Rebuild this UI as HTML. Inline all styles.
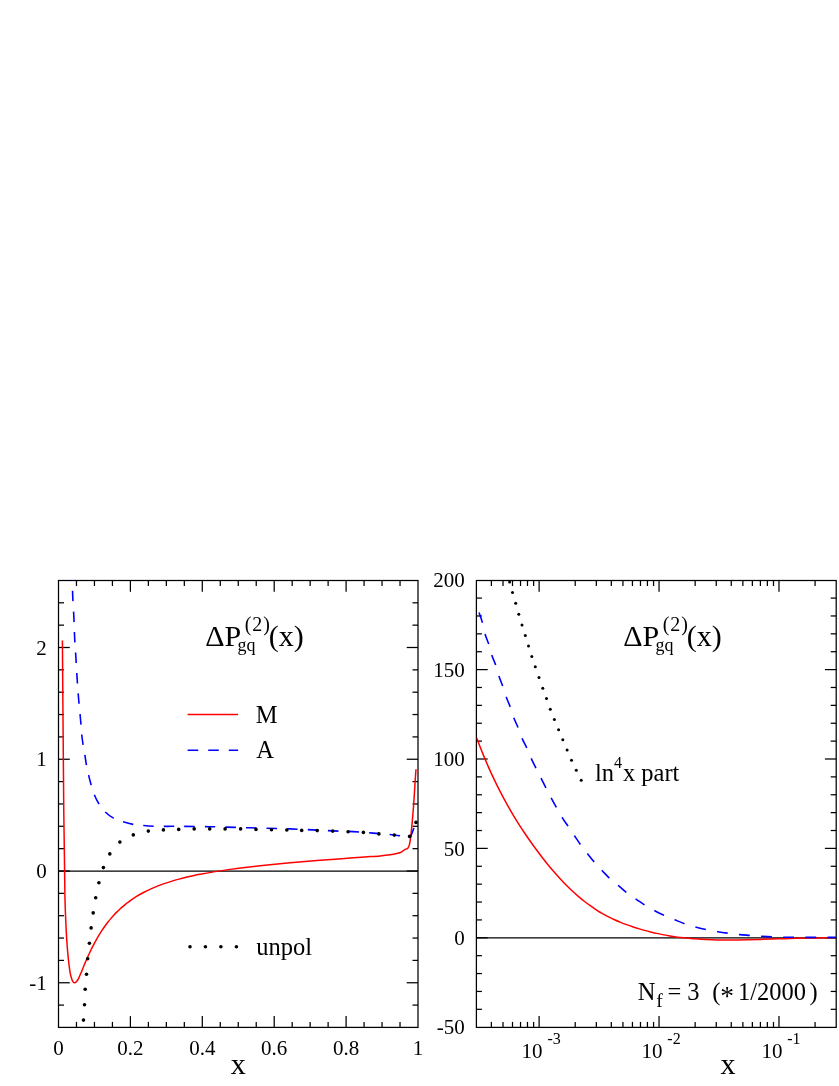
<!DOCTYPE html><html><head><meta charset="utf-8"><title>fig</title>
<style>html,body{margin:0;padding:0;background:#fff}svg{display:block;will-change:transform}text{font-family:"Liberation Serif",serif;fill:#000}</style></head><body>
<svg width="839" height="1086" viewBox="0 0 839 1086">
<rect width="839" height="1086" fill="#fff"/>
<rect x="58.50" y="580.50" width="359.50" height="446.90" fill="none" stroke="#000" stroke-width="1.25"/>
<rect x="476.40" y="580.50" width="359.80" height="446.90" fill="none" stroke="#000" stroke-width="1.25"/>
<line x1="76.47" y1="1027.40" x2="76.47" y2="1021.90" stroke="#000" stroke-width="1.25"/>
<line x1="76.47" y1="580.50" x2="76.47" y2="586.00" stroke="#000" stroke-width="1.25"/>
<line x1="94.45" y1="1027.40" x2="94.45" y2="1021.90" stroke="#000" stroke-width="1.25"/>
<line x1="94.45" y1="580.50" x2="94.45" y2="586.00" stroke="#000" stroke-width="1.25"/>
<line x1="112.43" y1="1027.40" x2="112.43" y2="1021.90" stroke="#000" stroke-width="1.25"/>
<line x1="112.43" y1="580.50" x2="112.43" y2="586.00" stroke="#000" stroke-width="1.25"/>
<line x1="130.40" y1="1027.40" x2="130.40" y2="1016.10" stroke="#000" stroke-width="1.25"/>
<line x1="130.40" y1="580.50" x2="130.40" y2="591.80" stroke="#000" stroke-width="1.25"/>
<line x1="148.38" y1="1027.40" x2="148.38" y2="1021.90" stroke="#000" stroke-width="1.25"/>
<line x1="148.38" y1="580.50" x2="148.38" y2="586.00" stroke="#000" stroke-width="1.25"/>
<line x1="166.35" y1="1027.40" x2="166.35" y2="1021.90" stroke="#000" stroke-width="1.25"/>
<line x1="166.35" y1="580.50" x2="166.35" y2="586.00" stroke="#000" stroke-width="1.25"/>
<line x1="184.32" y1="1027.40" x2="184.32" y2="1021.90" stroke="#000" stroke-width="1.25"/>
<line x1="184.32" y1="580.50" x2="184.32" y2="586.00" stroke="#000" stroke-width="1.25"/>
<line x1="202.30" y1="1027.40" x2="202.30" y2="1016.10" stroke="#000" stroke-width="1.25"/>
<line x1="202.30" y1="580.50" x2="202.30" y2="591.80" stroke="#000" stroke-width="1.25"/>
<line x1="220.28" y1="1027.40" x2="220.28" y2="1021.90" stroke="#000" stroke-width="1.25"/>
<line x1="220.28" y1="580.50" x2="220.28" y2="586.00" stroke="#000" stroke-width="1.25"/>
<line x1="238.25" y1="1027.40" x2="238.25" y2="1021.90" stroke="#000" stroke-width="1.25"/>
<line x1="238.25" y1="580.50" x2="238.25" y2="586.00" stroke="#000" stroke-width="1.25"/>
<line x1="256.23" y1="1027.40" x2="256.23" y2="1021.90" stroke="#000" stroke-width="1.25"/>
<line x1="256.23" y1="580.50" x2="256.23" y2="586.00" stroke="#000" stroke-width="1.25"/>
<line x1="274.20" y1="1027.40" x2="274.20" y2="1016.10" stroke="#000" stroke-width="1.25"/>
<line x1="274.20" y1="580.50" x2="274.20" y2="591.80" stroke="#000" stroke-width="1.25"/>
<line x1="292.18" y1="1027.40" x2="292.18" y2="1021.90" stroke="#000" stroke-width="1.25"/>
<line x1="292.18" y1="580.50" x2="292.18" y2="586.00" stroke="#000" stroke-width="1.25"/>
<line x1="310.15" y1="1027.40" x2="310.15" y2="1021.90" stroke="#000" stroke-width="1.25"/>
<line x1="310.15" y1="580.50" x2="310.15" y2="586.00" stroke="#000" stroke-width="1.25"/>
<line x1="328.12" y1="1027.40" x2="328.12" y2="1021.90" stroke="#000" stroke-width="1.25"/>
<line x1="328.12" y1="580.50" x2="328.12" y2="586.00" stroke="#000" stroke-width="1.25"/>
<line x1="346.10" y1="1027.40" x2="346.10" y2="1016.10" stroke="#000" stroke-width="1.25"/>
<line x1="346.10" y1="580.50" x2="346.10" y2="591.80" stroke="#000" stroke-width="1.25"/>
<line x1="364.07" y1="1027.40" x2="364.07" y2="1021.90" stroke="#000" stroke-width="1.25"/>
<line x1="364.07" y1="580.50" x2="364.07" y2="586.00" stroke="#000" stroke-width="1.25"/>
<line x1="382.05" y1="1027.40" x2="382.05" y2="1021.90" stroke="#000" stroke-width="1.25"/>
<line x1="382.05" y1="580.50" x2="382.05" y2="586.00" stroke="#000" stroke-width="1.25"/>
<line x1="400.03" y1="1027.40" x2="400.03" y2="1021.90" stroke="#000" stroke-width="1.25"/>
<line x1="400.03" y1="580.50" x2="400.03" y2="586.00" stroke="#000" stroke-width="1.25"/>
<line x1="58.50" y1="1005.10" x2="64.00" y2="1005.10" stroke="#000" stroke-width="1.25"/>
<line x1="418.00" y1="1005.10" x2="412.50" y2="1005.10" stroke="#000" stroke-width="1.25"/>
<line x1="58.50" y1="982.75" x2="69.80" y2="982.75" stroke="#000" stroke-width="1.25"/>
<line x1="418.00" y1="982.75" x2="406.70" y2="982.75" stroke="#000" stroke-width="1.25"/>
<line x1="58.50" y1="960.40" x2="64.00" y2="960.40" stroke="#000" stroke-width="1.25"/>
<line x1="418.00" y1="960.40" x2="412.50" y2="960.40" stroke="#000" stroke-width="1.25"/>
<line x1="58.50" y1="938.05" x2="64.00" y2="938.05" stroke="#000" stroke-width="1.25"/>
<line x1="418.00" y1="938.05" x2="412.50" y2="938.05" stroke="#000" stroke-width="1.25"/>
<line x1="58.50" y1="915.70" x2="64.00" y2="915.70" stroke="#000" stroke-width="1.25"/>
<line x1="418.00" y1="915.70" x2="412.50" y2="915.70" stroke="#000" stroke-width="1.25"/>
<line x1="58.50" y1="893.35" x2="64.00" y2="893.35" stroke="#000" stroke-width="1.25"/>
<line x1="418.00" y1="893.35" x2="412.50" y2="893.35" stroke="#000" stroke-width="1.25"/>
<line x1="58.50" y1="871.00" x2="69.80" y2="871.00" stroke="#000" stroke-width="1.25"/>
<line x1="418.00" y1="871.00" x2="406.70" y2="871.00" stroke="#000" stroke-width="1.25"/>
<line x1="58.50" y1="848.65" x2="64.00" y2="848.65" stroke="#000" stroke-width="1.25"/>
<line x1="418.00" y1="848.65" x2="412.50" y2="848.65" stroke="#000" stroke-width="1.25"/>
<line x1="58.50" y1="826.30" x2="64.00" y2="826.30" stroke="#000" stroke-width="1.25"/>
<line x1="418.00" y1="826.30" x2="412.50" y2="826.30" stroke="#000" stroke-width="1.25"/>
<line x1="58.50" y1="803.95" x2="64.00" y2="803.95" stroke="#000" stroke-width="1.25"/>
<line x1="418.00" y1="803.95" x2="412.50" y2="803.95" stroke="#000" stroke-width="1.25"/>
<line x1="58.50" y1="781.60" x2="64.00" y2="781.60" stroke="#000" stroke-width="1.25"/>
<line x1="418.00" y1="781.60" x2="412.50" y2="781.60" stroke="#000" stroke-width="1.25"/>
<line x1="58.50" y1="759.25" x2="69.80" y2="759.25" stroke="#000" stroke-width="1.25"/>
<line x1="418.00" y1="759.25" x2="406.70" y2="759.25" stroke="#000" stroke-width="1.25"/>
<line x1="58.50" y1="736.90" x2="64.00" y2="736.90" stroke="#000" stroke-width="1.25"/>
<line x1="418.00" y1="736.90" x2="412.50" y2="736.90" stroke="#000" stroke-width="1.25"/>
<line x1="58.50" y1="714.55" x2="64.00" y2="714.55" stroke="#000" stroke-width="1.25"/>
<line x1="418.00" y1="714.55" x2="412.50" y2="714.55" stroke="#000" stroke-width="1.25"/>
<line x1="58.50" y1="692.20" x2="64.00" y2="692.20" stroke="#000" stroke-width="1.25"/>
<line x1="418.00" y1="692.20" x2="412.50" y2="692.20" stroke="#000" stroke-width="1.25"/>
<line x1="58.50" y1="669.85" x2="64.00" y2="669.85" stroke="#000" stroke-width="1.25"/>
<line x1="418.00" y1="669.85" x2="412.50" y2="669.85" stroke="#000" stroke-width="1.25"/>
<line x1="58.50" y1="647.50" x2="69.80" y2="647.50" stroke="#000" stroke-width="1.25"/>
<line x1="418.00" y1="647.50" x2="406.70" y2="647.50" stroke="#000" stroke-width="1.25"/>
<line x1="58.50" y1="625.15" x2="64.00" y2="625.15" stroke="#000" stroke-width="1.25"/>
<line x1="418.00" y1="625.15" x2="412.50" y2="625.15" stroke="#000" stroke-width="1.25"/>
<line x1="58.50" y1="602.80" x2="64.00" y2="602.80" stroke="#000" stroke-width="1.25"/>
<line x1="418.00" y1="602.80" x2="412.50" y2="602.80" stroke="#000" stroke-width="1.25"/>
<line x1="58.50" y1="871.10" x2="418.00" y2="871.10" stroke="#000" stroke-width="1.25"/>
<line x1="491.38" y1="1027.40" x2="491.38" y2="1021.90" stroke="#000" stroke-width="1.25"/>
<line x1="491.38" y1="580.50" x2="491.38" y2="586.00" stroke="#000" stroke-width="1.25"/>
<line x1="503.01" y1="1027.40" x2="503.01" y2="1021.90" stroke="#000" stroke-width="1.25"/>
<line x1="503.01" y1="580.50" x2="503.01" y2="586.00" stroke="#000" stroke-width="1.25"/>
<line x1="512.50" y1="1027.40" x2="512.50" y2="1021.90" stroke="#000" stroke-width="1.25"/>
<line x1="512.50" y1="580.50" x2="512.50" y2="586.00" stroke="#000" stroke-width="1.25"/>
<line x1="520.53" y1="1027.40" x2="520.53" y2="1021.90" stroke="#000" stroke-width="1.25"/>
<line x1="520.53" y1="580.50" x2="520.53" y2="586.00" stroke="#000" stroke-width="1.25"/>
<line x1="527.49" y1="1027.40" x2="527.49" y2="1021.90" stroke="#000" stroke-width="1.25"/>
<line x1="527.49" y1="580.50" x2="527.49" y2="586.00" stroke="#000" stroke-width="1.25"/>
<line x1="533.62" y1="1027.40" x2="533.62" y2="1021.90" stroke="#000" stroke-width="1.25"/>
<line x1="533.62" y1="580.50" x2="533.62" y2="586.00" stroke="#000" stroke-width="1.25"/>
<line x1="539.11" y1="1027.40" x2="539.11" y2="1016.10" stroke="#000" stroke-width="1.25"/>
<line x1="539.11" y1="580.50" x2="539.11" y2="591.80" stroke="#000" stroke-width="1.25"/>
<line x1="575.21" y1="1027.40" x2="575.21" y2="1021.90" stroke="#000" stroke-width="1.25"/>
<line x1="575.21" y1="580.50" x2="575.21" y2="586.00" stroke="#000" stroke-width="1.25"/>
<line x1="596.33" y1="1027.40" x2="596.33" y2="1021.90" stroke="#000" stroke-width="1.25"/>
<line x1="596.33" y1="580.50" x2="596.33" y2="586.00" stroke="#000" stroke-width="1.25"/>
<line x1="611.32" y1="1027.40" x2="611.32" y2="1021.90" stroke="#000" stroke-width="1.25"/>
<line x1="611.32" y1="580.50" x2="611.32" y2="586.00" stroke="#000" stroke-width="1.25"/>
<line x1="622.94" y1="1027.40" x2="622.94" y2="1021.90" stroke="#000" stroke-width="1.25"/>
<line x1="622.94" y1="580.50" x2="622.94" y2="586.00" stroke="#000" stroke-width="1.25"/>
<line x1="632.44" y1="1027.40" x2="632.44" y2="1021.90" stroke="#000" stroke-width="1.25"/>
<line x1="632.44" y1="580.50" x2="632.44" y2="586.00" stroke="#000" stroke-width="1.25"/>
<line x1="640.47" y1="1027.40" x2="640.47" y2="1021.90" stroke="#000" stroke-width="1.25"/>
<line x1="640.47" y1="580.50" x2="640.47" y2="586.00" stroke="#000" stroke-width="1.25"/>
<line x1="647.42" y1="1027.40" x2="647.42" y2="1021.90" stroke="#000" stroke-width="1.25"/>
<line x1="647.42" y1="580.50" x2="647.42" y2="586.00" stroke="#000" stroke-width="1.25"/>
<line x1="653.56" y1="1027.40" x2="653.56" y2="1021.90" stroke="#000" stroke-width="1.25"/>
<line x1="653.56" y1="580.50" x2="653.56" y2="586.00" stroke="#000" stroke-width="1.25"/>
<line x1="659.04" y1="1027.40" x2="659.04" y2="1016.10" stroke="#000" stroke-width="1.25"/>
<line x1="659.04" y1="580.50" x2="659.04" y2="591.80" stroke="#000" stroke-width="1.25"/>
<line x1="695.15" y1="1027.40" x2="695.15" y2="1021.90" stroke="#000" stroke-width="1.25"/>
<line x1="695.15" y1="580.50" x2="695.15" y2="586.00" stroke="#000" stroke-width="1.25"/>
<line x1="716.27" y1="1027.40" x2="716.27" y2="1021.90" stroke="#000" stroke-width="1.25"/>
<line x1="716.27" y1="580.50" x2="716.27" y2="586.00" stroke="#000" stroke-width="1.25"/>
<line x1="731.25" y1="1027.40" x2="731.25" y2="1021.90" stroke="#000" stroke-width="1.25"/>
<line x1="731.25" y1="580.50" x2="731.25" y2="586.00" stroke="#000" stroke-width="1.25"/>
<line x1="742.87" y1="1027.40" x2="742.87" y2="1021.90" stroke="#000" stroke-width="1.25"/>
<line x1="742.87" y1="580.50" x2="742.87" y2="586.00" stroke="#000" stroke-width="1.25"/>
<line x1="752.37" y1="1027.40" x2="752.37" y2="1021.90" stroke="#000" stroke-width="1.25"/>
<line x1="752.37" y1="580.50" x2="752.37" y2="586.00" stroke="#000" stroke-width="1.25"/>
<line x1="760.40" y1="1027.40" x2="760.40" y2="1021.90" stroke="#000" stroke-width="1.25"/>
<line x1="760.40" y1="580.50" x2="760.40" y2="586.00" stroke="#000" stroke-width="1.25"/>
<line x1="767.35" y1="1027.40" x2="767.35" y2="1021.90" stroke="#000" stroke-width="1.25"/>
<line x1="767.35" y1="580.50" x2="767.35" y2="586.00" stroke="#000" stroke-width="1.25"/>
<line x1="773.49" y1="1027.40" x2="773.49" y2="1021.90" stroke="#000" stroke-width="1.25"/>
<line x1="773.49" y1="580.50" x2="773.49" y2="586.00" stroke="#000" stroke-width="1.25"/>
<line x1="778.98" y1="1027.40" x2="778.98" y2="1016.10" stroke="#000" stroke-width="1.25"/>
<line x1="778.98" y1="580.50" x2="778.98" y2="591.80" stroke="#000" stroke-width="1.25"/>
<line x1="815.08" y1="1027.40" x2="815.08" y2="1021.90" stroke="#000" stroke-width="1.25"/>
<line x1="815.08" y1="580.50" x2="815.08" y2="586.00" stroke="#000" stroke-width="1.25"/>
<line x1="476.40" y1="1009.32" x2="481.90" y2="1009.32" stroke="#000" stroke-width="1.25"/>
<line x1="836.20" y1="1009.32" x2="830.70" y2="1009.32" stroke="#000" stroke-width="1.25"/>
<line x1="476.40" y1="991.44" x2="481.90" y2="991.44" stroke="#000" stroke-width="1.25"/>
<line x1="836.20" y1="991.44" x2="830.70" y2="991.44" stroke="#000" stroke-width="1.25"/>
<line x1="476.40" y1="973.56" x2="481.90" y2="973.56" stroke="#000" stroke-width="1.25"/>
<line x1="836.20" y1="973.56" x2="830.70" y2="973.56" stroke="#000" stroke-width="1.25"/>
<line x1="476.40" y1="955.68" x2="481.90" y2="955.68" stroke="#000" stroke-width="1.25"/>
<line x1="836.20" y1="955.68" x2="830.70" y2="955.68" stroke="#000" stroke-width="1.25"/>
<line x1="476.40" y1="937.80" x2="487.70" y2="937.80" stroke="#000" stroke-width="1.25"/>
<line x1="836.20" y1="937.80" x2="824.90" y2="937.80" stroke="#000" stroke-width="1.25"/>
<line x1="476.40" y1="919.92" x2="481.90" y2="919.92" stroke="#000" stroke-width="1.25"/>
<line x1="836.20" y1="919.92" x2="830.70" y2="919.92" stroke="#000" stroke-width="1.25"/>
<line x1="476.40" y1="902.04" x2="481.90" y2="902.04" stroke="#000" stroke-width="1.25"/>
<line x1="836.20" y1="902.04" x2="830.70" y2="902.04" stroke="#000" stroke-width="1.25"/>
<line x1="476.40" y1="884.16" x2="481.90" y2="884.16" stroke="#000" stroke-width="1.25"/>
<line x1="836.20" y1="884.16" x2="830.70" y2="884.16" stroke="#000" stroke-width="1.25"/>
<line x1="476.40" y1="866.28" x2="481.90" y2="866.28" stroke="#000" stroke-width="1.25"/>
<line x1="836.20" y1="866.28" x2="830.70" y2="866.28" stroke="#000" stroke-width="1.25"/>
<line x1="476.40" y1="848.40" x2="487.70" y2="848.40" stroke="#000" stroke-width="1.25"/>
<line x1="836.20" y1="848.40" x2="824.90" y2="848.40" stroke="#000" stroke-width="1.25"/>
<line x1="476.40" y1="830.52" x2="481.90" y2="830.52" stroke="#000" stroke-width="1.25"/>
<line x1="836.20" y1="830.52" x2="830.70" y2="830.52" stroke="#000" stroke-width="1.25"/>
<line x1="476.40" y1="812.64" x2="481.90" y2="812.64" stroke="#000" stroke-width="1.25"/>
<line x1="836.20" y1="812.64" x2="830.70" y2="812.64" stroke="#000" stroke-width="1.25"/>
<line x1="476.40" y1="794.76" x2="481.90" y2="794.76" stroke="#000" stroke-width="1.25"/>
<line x1="836.20" y1="794.76" x2="830.70" y2="794.76" stroke="#000" stroke-width="1.25"/>
<line x1="476.40" y1="776.88" x2="481.90" y2="776.88" stroke="#000" stroke-width="1.25"/>
<line x1="836.20" y1="776.88" x2="830.70" y2="776.88" stroke="#000" stroke-width="1.25"/>
<line x1="476.40" y1="759.00" x2="487.70" y2="759.00" stroke="#000" stroke-width="1.25"/>
<line x1="836.20" y1="759.00" x2="824.90" y2="759.00" stroke="#000" stroke-width="1.25"/>
<line x1="476.40" y1="741.12" x2="481.90" y2="741.12" stroke="#000" stroke-width="1.25"/>
<line x1="836.20" y1="741.12" x2="830.70" y2="741.12" stroke="#000" stroke-width="1.25"/>
<line x1="476.40" y1="723.24" x2="481.90" y2="723.24" stroke="#000" stroke-width="1.25"/>
<line x1="836.20" y1="723.24" x2="830.70" y2="723.24" stroke="#000" stroke-width="1.25"/>
<line x1="476.40" y1="705.36" x2="481.90" y2="705.36" stroke="#000" stroke-width="1.25"/>
<line x1="836.20" y1="705.36" x2="830.70" y2="705.36" stroke="#000" stroke-width="1.25"/>
<line x1="476.40" y1="687.48" x2="481.90" y2="687.48" stroke="#000" stroke-width="1.25"/>
<line x1="836.20" y1="687.48" x2="830.70" y2="687.48" stroke="#000" stroke-width="1.25"/>
<line x1="476.40" y1="669.60" x2="487.70" y2="669.60" stroke="#000" stroke-width="1.25"/>
<line x1="836.20" y1="669.60" x2="824.90" y2="669.60" stroke="#000" stroke-width="1.25"/>
<line x1="476.40" y1="651.72" x2="481.90" y2="651.72" stroke="#000" stroke-width="1.25"/>
<line x1="836.20" y1="651.72" x2="830.70" y2="651.72" stroke="#000" stroke-width="1.25"/>
<line x1="476.40" y1="633.84" x2="481.90" y2="633.84" stroke="#000" stroke-width="1.25"/>
<line x1="836.20" y1="633.84" x2="830.70" y2="633.84" stroke="#000" stroke-width="1.25"/>
<line x1="476.40" y1="615.96" x2="481.90" y2="615.96" stroke="#000" stroke-width="1.25"/>
<line x1="836.20" y1="615.96" x2="830.70" y2="615.96" stroke="#000" stroke-width="1.25"/>
<line x1="476.40" y1="598.08" x2="481.90" y2="598.08" stroke="#000" stroke-width="1.25"/>
<line x1="836.20" y1="598.08" x2="830.70" y2="598.08" stroke="#000" stroke-width="1.25"/>
<line x1="476.40" y1="937.80" x2="836.20" y2="937.80" stroke="#000" stroke-width="1.25"/>
<text x="58.50" y="1055.10" font-size="21" text-anchor="middle" >0</text>
<text x="130.40" y="1055.10" font-size="21" text-anchor="middle" >0.2</text>
<text x="202.30" y="1055.10" font-size="21" text-anchor="middle" >0.4</text>
<text x="274.20" y="1055.10" font-size="21" text-anchor="middle" >0.6</text>
<text x="346.10" y="1055.10" font-size="21" text-anchor="middle" >0.8</text>
<text x="418.00" y="1055.10" font-size="21" text-anchor="middle" >1</text>
<text x="46.80" y="654.60" font-size="21" text-anchor="end" >2</text>
<text x="46.80" y="766.35" font-size="21" text-anchor="end" >1</text>
<text x="46.80" y="878.10" font-size="21" text-anchor="end" >0</text>
<text x="46.80" y="989.85" font-size="21" text-anchor="end" >-1</text>
<text x="464.70" y="587.30" font-size="21" text-anchor="end" >200</text>
<text x="464.70" y="676.70" font-size="21" text-anchor="end" >150</text>
<text x="464.70" y="766.10" font-size="21" text-anchor="end" >100</text>
<text x="464.70" y="855.50" font-size="21" text-anchor="end" >50</text>
<text x="464.70" y="944.90" font-size="21" text-anchor="end" >0</text>
<text x="464.70" y="1034.30" font-size="21" text-anchor="end" >-50</text>
<text x="521.51" y="1057.90" font-size="21" text-anchor="start" >10</text>
<text x="547.41" y="1043.80" font-size="16" text-anchor="start" >-3</text>
<text x="641.44" y="1057.90" font-size="21" text-anchor="start" >10</text>
<text x="667.34" y="1043.80" font-size="16" text-anchor="start" >-2</text>
<text x="761.38" y="1057.90" font-size="21" text-anchor="start" >10</text>
<text x="787.28" y="1043.80" font-size="16" text-anchor="start" >-1</text>
<text x="238.30" y="1073.50" font-size="30" text-anchor="middle" >x</text>
<text x="728.10" y="1073.50" font-size="30" text-anchor="middle" >x</text>
<text x="205.30" y="646.30" font-size="30" text-anchor="start" >ΔP</text>
<text x="237.50" y="651.30" font-size="18" text-anchor="start" >gq</text>
<text x="244.80" y="630.80" font-size="20" text-anchor="start" letter-spacing="0.9">(2)</text>
<text x="268.80" y="646.30" font-size="30" text-anchor="start" >(x)</text>
<text x="623.30" y="646.30" font-size="30" text-anchor="start" >ΔP</text>
<text x="655.50" y="651.30" font-size="18" text-anchor="start" >gq</text>
<text x="662.80" y="630.80" font-size="20" text-anchor="start" letter-spacing="0.9">(2)</text>
<text x="686.80" y="646.30" font-size="30" text-anchor="start" >(x)</text>
<line x1="187.60" y1="714.60" x2="238.10" y2="714.60" stroke="#f00" stroke-width="1.50"/>
<path d="M187.6 750.2H238.1" stroke="#00f" stroke-width="1.6" stroke-dasharray="10.6 10" fill="none"/>
<text x="255.80" y="722.50" font-size="24.5" text-anchor="start" >M</text>
<text x="256.20" y="758.30" font-size="24.5" text-anchor="start" >A</text>
<circle cx="190.0" cy="946.8" r="1.8"/>
<circle cx="205.4" cy="946.8" r="1.8"/>
<circle cx="220.9" cy="946.8" r="1.8"/>
<circle cx="236.4" cy="946.8" r="1.8"/>
<text x="256.30" y="955.40" font-size="24.5" text-anchor="start" >unpol</text>
<text x="594.90" y="780.60" font-size="24.5" text-anchor="start" >ln</text>
<text x="613.90" y="768.20" font-size="16" text-anchor="start" >4</text>
<text x="622.90" y="780.60" font-size="24.5" text-anchor="start" >x part</text>
<text x="637.80" y="1000.40" font-size="24.5" text-anchor="start" >N</text>
<text x="656.20" y="1007.40" font-size="19.5" text-anchor="start" >f</text>
<text x="667.40" y="1000.40" font-size="24.5" text-anchor="start" >= 3</text>
<text x="712.30" y="1000.40" font-size="24.5" text-anchor="start" >(</text>
<text x="720.30" y="1005.00" font-size="27.5" text-anchor="start" >*</text>
<text x="738.00" y="1000.40" font-size="24.5" text-anchor="start" >1/2000</text>
<text x="809.60" y="1000.40" font-size="24.5" text-anchor="start" >)</text>
<clipPath id="c1"><rect x="58.50" y="580.50" width="359.50" height="446.90"/></clipPath>
<clipPath id="c2"><rect x="476.40" y="580.50" width="359.80" height="446.90"/></clipPath>
<g clip-path="url(#c1)" fill="none">
<path d="M62.40 640.60 C62.52 655.50 62.87 701.20 63.10 730.00 C63.33 758.80 63.55 789.98 63.80 813.40 C64.05 836.82 64.40 856.15 64.60 870.50 C64.80 884.85 64.80 890.98 65.00 899.50 C65.20 908.02 65.50 914.73 65.80 921.60 C66.10 928.47 66.38 934.57 66.80 940.70 C67.22 946.83 67.73 953.00 68.30 958.40 C68.87 963.80 69.58 969.53 70.20 973.10 C70.82 976.67 71.47 978.27 72.00 979.80 C72.53 981.33 72.92 981.82 73.40 982.30 C73.88 982.78 74.40 982.80 74.90 982.70 C75.40 982.60 75.78 982.43 76.40 981.70 C77.02 980.97 77.75 979.97 78.60 978.30 C79.45 976.63 80.52 974.03 81.50 971.70 C82.48 969.37 83.58 966.51 84.50 964.30 C85.42 962.09 86.08 960.50 87.00 958.44 C87.92 956.38 89.00 954.04 90.00 951.95 C91.00 949.86 92.00 947.84 93.00 945.90 C94.00 943.96 95.00 942.09 96.00 940.30 C97.00 938.51 98.00 936.79 99.00 935.14 C100.00 933.49 101.00 931.91 102.00 930.40 C103.00 928.88 104.00 927.44 105.00 926.05 C106.00 924.66 107.00 923.33 108.00 922.05 C109.00 920.77 110.00 919.55 111.00 918.37 C112.00 917.19 113.00 916.07 114.00 914.98 C115.00 913.89 116.00 912.86 117.00 911.86 C118.00 910.86 119.00 909.90 120.00 908.98 C121.00 908.06 122.00 907.17 123.00 906.31 C124.00 905.45 125.00 904.62 126.00 903.83 C127.00 903.04 127.17 902.81 129.00 901.54 C130.83 900.26 134.50 897.73 137.00 896.18 C139.50 894.63 141.67 893.45 144.00 892.23 C146.33 891.01 148.67 889.90 151.00 888.85 C153.33 887.80 155.67 886.83 158.00 885.92 C160.33 885.01 162.67 884.17 165.00 883.37 C167.33 882.57 169.67 881.83 172.00 881.12 C174.33 880.41 176.67 879.76 179.00 879.13 C181.33 878.50 183.67 877.91 186.00 877.35 C188.33 876.79 190.67 876.26 193.00 875.75 C195.33 875.24 196.33 875.00 200.00 874.31 C203.67 873.62 210.00 872.45 215.00 871.63 C220.00 870.81 225.00 870.08 230.00 869.38 C235.00 868.68 240.00 868.05 245.00 867.44 C250.00 866.84 255.00 866.29 260.00 865.75 C265.00 865.21 270.00 864.71 275.00 864.22 C280.00 863.73 285.00 863.28 290.00 862.83 C295.00 862.38 300.00 861.96 305.00 861.54 C310.00 861.12 315.00 860.72 320.00 860.32 C325.00 859.92 330.00 859.54 335.00 859.16 C340.00 858.78 345.00 858.42 350.00 858.05 C355.00 857.68 360.00 857.32 365.00 856.96 C370.00 856.60 375.82 856.26 380.00 855.90 C384.18 855.54 387.30 855.20 390.10 854.80 C392.90 854.40 394.85 854.00 396.80 853.50 C398.75 853.00 400.42 852.50 401.80 851.80 C403.18 851.10 404.13 849.85 405.10 849.30 C406.07 848.75 406.90 849.20 407.60 848.50 C408.30 847.80 408.82 846.78 409.30 845.10 C409.78 843.42 410.08 841.45 410.50 838.40 C410.92 835.35 411.37 831.25 411.80 826.80 C412.23 822.35 412.68 816.98 413.10 811.70 C413.52 806.42 413.97 800.10 414.30 795.10 C414.63 790.10 414.82 786.02 415.10 781.70 C415.38 777.38 415.85 771.28 416.00 769.20" stroke="#f00" stroke-width="1.5"/>
<path d="M72.20 570.40 C72.23 572.05 72.32 576.10 72.40 580.30 C72.48 584.50 72.45 589.37 72.70 595.60 C72.95 601.83 73.58 610.82 73.90 617.70 C74.22 624.58 74.27 630.27 74.60 636.90 C74.93 643.53 75.48 650.63 75.90 657.50 C76.32 664.37 76.65 671.22 77.10 678.10 C77.55 684.98 77.98 691.43 78.60 698.80 C79.22 706.17 80.28 716.37 80.80 722.30 C81.32 728.23 81.33 730.75 81.70 734.40 C82.07 738.05 82.47 740.73 83.00 744.20 C83.53 747.67 84.33 751.77 84.90 755.20 C85.47 758.63 85.78 761.48 86.40 764.80 C87.02 768.12 87.82 771.78 88.60 775.10 C89.38 778.42 90.18 781.52 91.10 784.70 C92.02 787.88 92.80 791.02 94.10 794.20 C95.40 797.38 97.07 800.85 98.90 803.80 C100.73 806.75 102.67 809.52 105.10 811.90 C107.53 814.28 110.50 816.45 113.50 818.10 C116.50 819.75 119.83 820.75 123.10 821.80 C126.37 822.85 129.70 823.78 133.10 824.40 C136.50 825.02 140.10 825.20 143.50 825.50 C146.90 825.80 150.07 826.05 153.50 826.20 C156.93 826.35 160.62 826.38 164.10 826.40 C167.58 826.42 166.75 826.25 174.40 826.30 C182.05 826.35 197.40 826.45 210.00 826.70 C222.60 826.95 236.67 827.43 250.00 827.80 C263.33 828.17 278.83 828.52 290.00 828.90 C301.17 829.28 309.83 829.77 317.00 830.10 C324.17 830.43 327.00 830.65 333.00 830.90 C339.00 831.15 346.33 831.23 353.00 831.60 C359.67 831.97 366.17 832.53 373.00 833.10 C379.83 833.67 389.00 834.47 394.00 835.00 C399.00 835.53 400.67 835.90 403.00 836.30 C405.33 836.70 406.83 837.18 408.00 837.40 C409.17 837.62 409.45 838.00 410.00 837.60 C410.55 837.20 410.58 836.80 411.30 835.00 C412.02 833.20 413.80 828.17 414.30 826.80" stroke="#00f" stroke-width="1.6" stroke-dasharray="10.5 10.05"/>
<circle cx="83.5" cy="1020.1" r="1.8" fill="#000"/>
<circle cx="84.5" cy="1004.7" r="1.8" fill="#000"/>
<circle cx="85.2" cy="989.3" r="1.8" fill="#000"/>
<circle cx="86.5" cy="974.3" r="1.8" fill="#000"/>
<circle cx="87.7" cy="958.7" r="1.8" fill="#000"/>
<circle cx="89.4" cy="943.2" r="1.8" fill="#000"/>
<circle cx="91.1" cy="927.9" r="1.8" fill="#000"/>
<circle cx="93.2" cy="912.9" r="1.8" fill="#000"/>
<circle cx="95.7" cy="897.7" r="1.8" fill="#000"/>
<circle cx="98.9" cy="882.7" r="1.8" fill="#000"/>
<circle cx="103.4" cy="867.6" r="1.8" fill="#000"/>
<circle cx="109.8" cy="853.9" r="1.8" fill="#000"/>
<circle cx="119.9" cy="842.1" r="1.8" fill="#000"/>
<circle cx="133.3" cy="834.9" r="1.8" fill="#000"/>
<circle cx="148.3" cy="831.1" r="1.8" fill="#000"/>
<circle cx="163.4" cy="829.9" r="1.8" fill="#000"/>
<circle cx="178.7" cy="829.4" r="1.8" fill="#000"/>
<circle cx="194.2" cy="828.9" r="1.8" fill="#000"/>
<circle cx="209.7" cy="828.9" r="1.8" fill="#000"/>
<circle cx="225.1" cy="828.9" r="1.8" fill="#000"/>
<circle cx="240.6" cy="828.9" r="1.8" fill="#000"/>
<circle cx="256.0" cy="829.4" r="1.8" fill="#000"/>
<circle cx="271.5" cy="829.7" r="1.8" fill="#000"/>
<circle cx="286.8" cy="830.0" r="1.8" fill="#000"/>
<circle cx="301.7" cy="830.4" r="1.8" fill="#000"/>
<circle cx="317.2" cy="830.6" r="1.8" fill="#000"/>
<circle cx="332.7" cy="831.1" r="1.8" fill="#000"/>
<circle cx="348.1" cy="831.8" r="1.8" fill="#000"/>
<circle cx="363.4" cy="832.4" r="1.8" fill="#000"/>
<circle cx="378.9" cy="833.9" r="1.8" fill="#000"/>
<circle cx="394.3" cy="835.1" r="1.8" fill="#000"/>
<circle cx="409.6" cy="836.4" r="1.8" fill="#000"/>
<circle cx="416.0" cy="822.4" r="1.8" fill="#000"/>
</g>
<g clip-path="url(#c2)" fill="none">
<path d="M476.60 737.66 C477.60 740.24 480.60 748.19 482.60 753.14 C484.60 758.09 486.60 762.79 488.60 767.33 C490.60 771.87 492.60 776.20 494.60 780.39 C496.60 784.58 498.60 788.57 500.60 792.44 C502.60 796.31 504.60 800.02 506.60 803.62 C508.60 807.22 510.60 810.67 512.60 814.03 C514.60 817.39 516.60 820.63 518.60 823.79 C520.60 826.95 522.60 830.01 524.60 833.00 C526.60 835.99 528.60 838.89 530.60 841.73 C532.60 844.57 534.60 847.34 536.60 850.04 C538.60 852.74 540.60 855.38 542.60 857.95 C544.60 860.52 546.60 863.03 548.60 865.47 C550.60 867.91 552.60 870.27 554.60 872.57 C556.60 874.87 558.60 877.11 560.60 879.26 C562.60 881.41 564.60 883.50 566.60 885.50 C568.60 887.50 570.60 889.43 572.60 891.29 C574.60 893.14 576.60 894.92 578.60 896.63 C580.60 898.34 582.60 899.97 584.60 901.53 C586.60 903.09 588.60 904.57 590.60 905.98 C592.60 907.39 594.60 908.73 596.60 910.01 C598.60 911.29 600.60 912.50 602.60 913.64 C604.60 914.78 606.60 915.86 608.60 916.88 C610.60 917.90 612.60 918.86 614.60 919.77 C616.60 920.68 618.60 921.55 620.60 922.36 C622.60 923.17 624.60 923.93 626.60 924.66 C628.60 925.39 630.60 926.09 632.60 926.75 C634.60 927.41 636.60 928.04 638.60 928.65 C640.60 929.25 642.60 929.83 644.60 930.38 C646.60 930.93 648.60 931.46 650.60 931.96 C652.60 932.46 654.60 932.93 656.60 933.38 C658.60 933.83 660.60 934.24 662.60 934.63 C664.60 935.02 666.60 935.38 668.60 935.72 C670.60 936.06 672.60 936.37 674.60 936.66 C676.60 936.95 678.60 937.21 680.60 937.45 C682.60 937.69 684.60 937.91 686.60 938.11 C688.60 938.31 690.60 938.48 692.60 938.64 C694.60 938.80 697.37 938.99 698.60 939.07 C699.83 939.16 697.77 939.05 700.00 939.15 C702.23 939.25 708.00 939.56 712.00 939.68 C716.00 939.80 720.00 939.86 724.00 939.89 C728.00 939.92 732.00 939.91 736.00 939.88 C740.00 939.85 744.00 939.77 748.00 939.69 C752.00 939.61 756.00 939.51 760.00 939.40 C764.00 939.29 768.00 939.17 772.00 939.05 C776.00 938.93 780.00 938.80 784.00 938.68 C788.00 938.56 792.00 938.45 796.00 938.35 C800.00 938.25 804.00 938.16 808.00 938.08 C812.00 938.00 816.00 937.94 820.00 937.89 C824.00 937.84 829.30 937.81 832.00 937.80 C834.70 937.78 835.50 937.80 836.20 937.80" stroke="#f00" stroke-width="1.5"/>
<path d="M479.10 612.60 C479.63 614.20 481.28 618.55 482.30 622.20 C483.32 625.85 484.13 630.85 485.20 634.50 C486.27 638.15 487.58 640.60 488.70 644.10 C489.82 647.60 490.73 652.00 491.90 655.50 C493.07 659.00 494.53 661.67 495.70 665.10 C496.87 668.53 497.73 672.60 498.90 676.10 C500.07 679.60 501.48 682.63 502.70 686.10 C503.92 689.57 504.93 693.40 506.20 696.90 C507.47 700.40 508.98 703.50 510.30 707.10 C511.62 710.70 512.80 715.07 514.10 718.50 C515.40 721.93 516.75 724.35 518.10 727.70 C519.45 731.05 520.73 735.18 522.20 738.60 C523.67 742.02 525.38 744.87 526.90 748.20 C528.42 751.53 529.75 755.20 531.30 758.60 C532.85 762.00 534.55 765.27 536.20 768.60 C537.85 771.93 539.55 775.33 541.20 778.60 C542.85 781.87 544.40 784.90 546.10 788.20 C547.80 791.50 549.65 795.13 551.40 798.40 C553.15 801.67 554.80 804.60 556.60 807.80 C558.40 811.00 560.23 814.45 562.20 817.60 C564.17 820.75 566.35 823.67 568.40 826.70 C570.45 829.73 572.43 832.73 574.50 835.80 C576.57 838.87 578.62 842.10 580.80 845.10 C582.98 848.10 585.27 850.88 587.60 853.80 C589.93 856.72 592.37 859.78 594.80 862.60 C597.23 865.42 599.62 867.97 602.20 870.70 C604.78 873.43 607.43 876.38 610.30 879.00 C613.17 881.62 616.47 883.97 619.40 886.40 C622.33 888.83 624.97 891.37 627.90 893.60 C630.83 895.83 634.05 897.82 637.00 899.80 C639.95 901.78 642.50 903.60 645.60 905.50 C648.70 907.40 652.37 909.48 655.60 911.20 C658.83 912.92 661.68 914.32 665.00 915.80 C668.32 917.28 672.08 918.73 675.50 920.10 C678.92 921.47 682.03 922.82 685.50 924.00 C688.97 925.18 692.75 926.25 696.30 927.20 C699.85 928.15 703.23 928.95 706.80 929.70 C710.37 930.45 714.13 931.12 717.70 931.70 C721.27 932.28 724.55 932.72 728.20 933.20 C731.85 933.68 735.95 934.23 739.60 934.60 C743.25 934.97 746.45 935.12 750.10 935.40 C753.75 935.68 757.78 936.05 761.50 936.30 C765.22 936.55 768.68 936.75 772.40 936.90 C776.12 937.05 780.10 937.13 783.80 937.20 C787.50 937.27 790.95 937.27 794.60 937.30 C798.25 937.33 802.05 937.38 805.70 937.40 C809.35 937.42 812.80 937.40 816.50 937.40 C820.20 937.40 824.65 937.40 827.90 937.40 C831.15 937.40 834.65 937.40 836.00 937.40" stroke="#00f" stroke-width="1.6" stroke-dasharray="10.8 11.35"/>
<circle cx="509.6" cy="582.0" r="1.5" fill="#000"/>
<circle cx="512.5" cy="592.5" r="1.5" fill="#000"/>
<circle cx="515.7" cy="603.2" r="1.5" fill="#000"/>
<circle cx="518.8" cy="614.2" r="1.5" fill="#000"/>
<circle cx="522.0" cy="624.9" r="1.5" fill="#000"/>
<circle cx="525.3" cy="635.5" r="1.5" fill="#000"/>
<circle cx="528.5" cy="646.0" r="1.5" fill="#000"/>
<circle cx="531.8" cy="656.5" r="1.5" fill="#000"/>
<circle cx="535.3" cy="666.8" r="1.5" fill="#000"/>
<circle cx="539.0" cy="677.5" r="1.5" fill="#000"/>
<circle cx="542.8" cy="688.2" r="1.5" fill="#000"/>
<circle cx="546.5" cy="698.5" r="1.5" fill="#000"/>
<circle cx="550.3" cy="709.2" r="1.5" fill="#000"/>
<circle cx="554.4" cy="719.5" r="1.5" fill="#000"/>
<circle cx="558.6" cy="729.7" r="1.5" fill="#000"/>
<circle cx="562.8" cy="739.8" r="1.5" fill="#000"/>
<circle cx="567.1" cy="750.1" r="1.5" fill="#000"/>
<circle cx="571.5" cy="760.2" r="1.5" fill="#000"/>
<circle cx="576.3" cy="770.2" r="1.5" fill="#000"/>
<circle cx="581.2" cy="780.2" r="1.5" fill="#000"/>
</g>
</svg></body></html>
